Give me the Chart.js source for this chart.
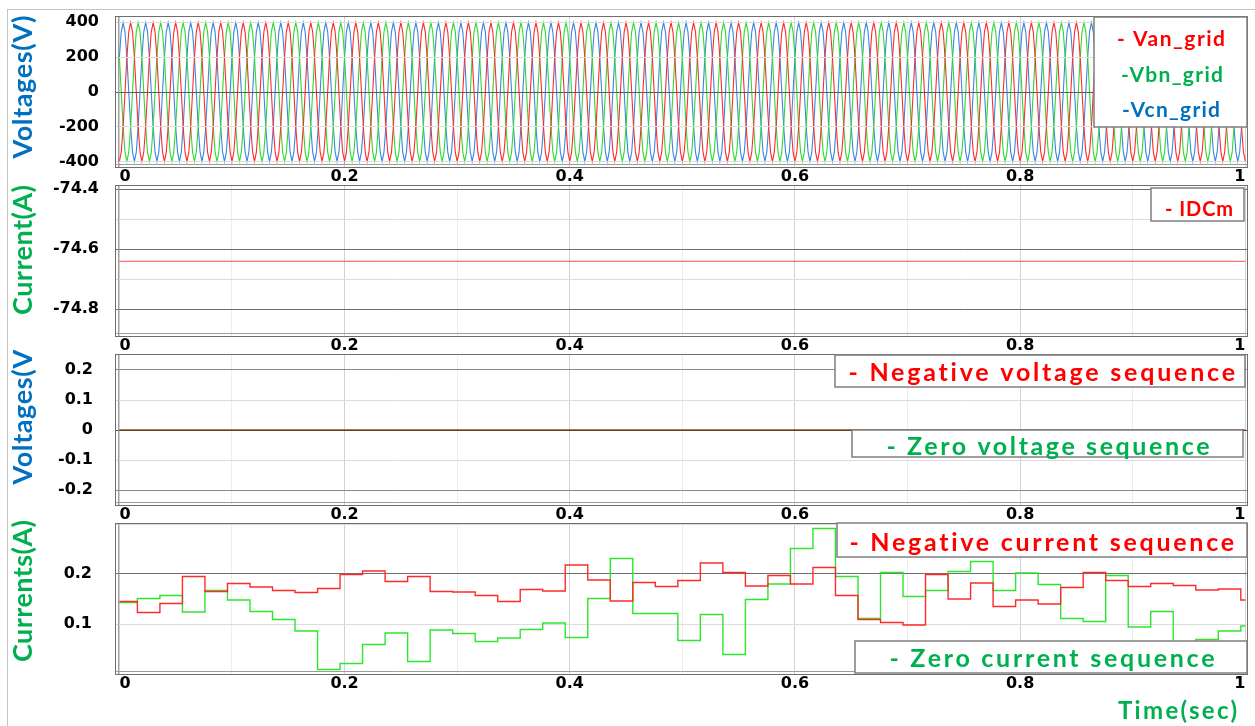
<!DOCTYPE html>
<html>
<head>
<meta charset="utf-8">
<title>Grid voltages and sequence components</title>
<script src="https://cdn.jsdelivr.net/npm/chart.js@4.4.1/dist/chart.umd.min.js"></script>
<style>
    html, body { margin: 0; padding: 0; background: #fff; }
    body { width: 1255px; height: 726px; position: relative; overflow: hidden; }
    .frame { position: absolute; left: 7px; top: 9px; width: 1250px; height: 730px;
             border-left: 1px solid #c4c4c4; border-top: 1px solid #c4c4c4; }
    canvas { position: absolute; left: 0; }
</style>
</head>
<body>
<div class="frame"></div>
<canvas id="chart-grid" width="1255" height="189" style="top:0px"></canvas>
<canvas id="chart-idc" width="1255" height="180" style="top:178px"></canvas>
<canvas id="chart-vseq" width="1255" height="177" style="top:350px"></canvas>
<canvas id="chart-iseq" width="1255" height="210" style="top:516px"></canvas>
<script>
// Zaman ekseni
const timeTicks = [0, 0.1, 0.2, 0.3, 0.4, 0.5, 0.6, 0.7, 0.8, 0.9, 1];
const timeLabels = ['0', '', '0.2', '', '0.4', '', '0.6', '', '0.8', '', '1'];

// Şebeke faz gerilimleri: 50 Hz, bir periyot 30 derecede bir örneklenmiş
const cyclePeriod = 0.02;
const cycleCount = 50;
const vanCycle = [-398, -345, -199, 0, 199, 345, 398, 345, 199, 0, -199, -345];
const vbnCycle = [199, 0, -199, -345, -398, -345, -199, 0, 199, 345, 398, 345];
const vcnCycle = [199, 345, 398, 345, 199, 0, -199, -345, -398, -345, -199, 0];
const voltTicks = [-400, -200, 0, 200, 400];
const voltLabels = ['-400', '-200', '0', '200', '400'];

// DC akımı
const dcTimes = [0, 1];
const idcM = [-74.64, -74.64];
const dcTicks = [-74.8, -74.7, -74.6, -74.5, -74.4];
const dcLabels = ['-74.8', '', '-74.6', '', '-74.4'];

// Negatif / sıfır bileşen gerilimleri
const vseqTimes = [0, 1];
const negVoltSeq = [0, 0];
const zeroVoltSeq = [0, 0];
const vseqTicks = [-0.2, -0.1, 0, 0.1, 0.2];
const vseqLabels = ['-0.2', '-0.1', '0', '0.1', '0.2'];

// Negatif / sıfır bileşen akımları (basamak başlangıç zamanları)
const seqTimes = [0, 0.016, 0.036, 0.056, 0.076, 0.096, 0.116, 0.136, 0.156, 0.176,
    0.196, 0.216, 0.236, 0.256, 0.276, 0.296, 0.316, 0.336, 0.356, 0.376,
    0.396, 0.416, 0.436, 0.456, 0.476, 0.496, 0.516, 0.536, 0.556, 0.576,
    0.596, 0.616, 0.636, 0.656, 0.676, 0.696, 0.716, 0.736, 0.756, 0.776,
    0.796, 0.816, 0.836, 0.856, 0.876, 0.896, 0.916, 0.936, 0.956, 0.976,
    0.996, 1];
const negCurrent = [0.145, 0.123, 0.141, 0.195, 0.165, 0.181, 0.174, 0.167, 0.163, 0.171,
    0.199, 0.206, 0.185, 0.195, 0.165, 0.164, 0.157, 0.145, 0.169, 0.166,
    0.218, 0.188, 0.146, 0.183, 0.175, 0.187, 0.222, 0.203, 0.176, 0.197,
    0.180, 0.213, 0.157, 0.109, 0.103, 0.098, 0.199, 0.150, 0.182, 0.135,
    0.148, 0.140, 0.173, 0.203, 0.187, 0.175, 0.181, 0.177, 0.168, 0.170,
    0.148, 0.148];
const zeroCurrent = [0.143, 0.151, 0.157, 0.124, 0.167, 0.148, 0.125, 0.109, 0.086, 0.009,
    0.021, 0.059, 0.082, 0.025, 0.088, 0.081, 0.065, 0.072, 0.089, 0.102,
    0.073, 0.151, 0.231, 0.121, 0.121, 0.067, 0.119, 0.039, 0.149, 0.180,
    0.251, 0.291, 0.195, 0.111, 0.203, 0.155, 0.167, 0.205, 0.225, 0.167,
    0.202, 0.179, 0.111, 0.105, 0.197, 0.094, 0.125, 0.050, 0.069, 0.086,
    0.096, 0.096];
const iseqTicks = [0, 0.1, 0.2, 0.3];
const iseqLabels = ['', '0.1', '0.2', ''];

const RED = '#ff0000';
const GREEN = '#00b050';
const BLUE = '#0070c0';
const TICK_FONT = { family: 'DejaVu Sans', size: 16, weight: 'bold' };

Chart.defaults.font.family = 'Lato';

// Periyot tablosunu tüm süre boyunca tekrarla
function tileCycle(cycle) {
    const pts = [];
    const n = cycle.length;
    for (let c = 0; c < cycleCount; c++) {
        cycle.forEach((v, k) => pts.push({ x: (c * n + k) * cyclePeriod / n, y: v }));
    }
    pts.push({ x: cycleCount * cyclePeriod, y: cycle[0] });
    return pts;
}

function pairUp(xs, ys) {
    return xs.map((x, i) => ({ x: x, y: ys[i] }));
}

// Harf aralığını ayarlayarak metni verilen genişliğe yay
function fitText(ctx, text, x, y, width, align) {
    ctx.letterSpacing = '0px';
    const natural = ctx.measureText(text).width;
    const gap = (width - natural) / Math.max(1, text.length - 1);
    ctx.letterSpacing = gap + 'px';
    const left = align === 'right' ? x - width : align === 'center' ? x - width / 2 : x;
    ctx.textAlign = 'left';
    ctx.fillText(text, left, y);
    ctx.letterSpacing = '0px';
}

// Çerçeve, eksen başlığı ve lejant kutuları (sayfa koordinatlarında)
const decor = {
    id: 'decor',
    afterDraw(chart, args, o) {
        const ctx = chart.ctx;
        const a = chart.chartArea;
        ctx.save();
        ctx.lineWidth = 1;
        ctx.strokeStyle = '#6f6f6f';
        ctx.strokeRect(a.left - 0.5, a.top - 0.5, a.width + 1, a.height + 1);
        ctx.strokeStyle = '#9c9c9c';
        ctx.beginPath();
        ctx.moveTo(a.left + 2.5, a.top);
        ctx.lineTo(a.left + 2.5, a.bottom);
        ctx.moveTo(a.left, a.bottom - 2.5);
        ctx.lineTo(a.right, a.bottom - 2.5);
        ctx.stroke();

        ctx.translate(0, -chart.canvas.offsetTop);

        (o.boxes || []).forEach(b => {
            ctx.fillStyle = '#fff';
            ctx.fillRect(b.x, b.y, b.w, b.h);
            ctx.strokeStyle = '#7f7f7f';
            ctx.lineWidth = 1.5;
            ctx.strokeRect(b.x, b.y, b.w, b.h);
            ctx.font = 'bold ' + b.size + 'px Lato';
            ctx.textBaseline = 'alphabetic';
            b.items.forEach(it => {
                const ds = chart.data.datasets[it.ds];
                ctx.fillStyle = it.color;
                fitText(ctx, it.prefix + ds.label, it.cx, it.base, it.w, 'center');
            });
        });

        if (o.yTitle) {
            const t = o.yTitle;
            ctx.save();
            ctx.translate(t.cx, t.cy);
            ctx.rotate(-Math.PI / 2);
            ctx.font = 'bold 27px Lato';
            ctx.textBaseline = 'middle';
            ctx.fillStyle = t.color;
            fitText(ctx, t.text, 0, 0, t.w, 'center');
            ctx.restore();
        }

        if (o.footer) {
            const f = o.footer;
            ctx.font = 'bold 24px Lato';
            ctx.textBaseline = 'alphabetic';
            ctx.fillStyle = f.color;
            fitText(ctx, f.text, f.right, f.base, f.w, 'right');
        }
        ctx.restore();
    }
};

function timeScale() {
    return {
        type: 'linear',
        min: -0.003,
        max: 1.0015,
        afterBuildTicks: axis => { axis.ticks = timeTicks.map(v => ({ value: v })); },
        afterFit: axis => { axis.height = 22; },
        grid: {
            drawTicks: false,
            color: ctx => (timeLabels[ctx.index] ? '#d2d2d2' : '#ededed')
        },
        border: { display: false },
        ticks: {
            autoSkip: false,
            maxRotation: 0,
            align: 'inner',
            padding: 0,
            color: '#000',
            font: TICK_FONT,
            callback: (v, i) => timeLabels[i]
        }
    };
}

// Etiket ile çizim alanı arasındaki boşluk görünmez tick çizgisiyle verilir;
// ticks.padding dikey boşluğu da büyüttüğü için sıfırda tutuluyor.
function valueScale(min, max, ticks, labels, dark, gap, gridOnTop) {
    return {
        type: 'linear',
        min: min,
        max: max,
        afterBuildTicks: axis => { axis.ticks = ticks.map(v => ({ value: v })); },
        afterFit: axis => { axis.width = 116; },
        grid: {
            drawTicks: true,
            tickLength: gap,
            tickColor: 'rgba(0,0,0,0)',
            z: gridOnTop ? 1 : -1,
            color: ctx => (dark[ctx.tick.value] || '#dcdcdc')
        },
        border: { display: false },
        ticks: {
            padding: 0,
            color: '#000',
            font: Object.assign({ lineHeight: 0.6 }, TICK_FONT),
            callback: (v, i) => labels[i]
        }
    };
}

function lineSet(label, data, color, width, stepped) {
    return {
        label: label,
        data: data,
        borderColor: color,
        borderWidth: width,
        pointRadius: 0,
        tension: 0,
        stepped: stepped || false,
        fill: false
    };
}

function panel(id, datasets, yScale, padTop, padBottom, deco) {
    return new Chart(document.getElementById(id), {
        type: 'line',
        data: { datasets: datasets },
        options: {
            responsive: false,
            animation: false,
            devicePixelRatio: 1,
            layout: { padding: { top: padTop, bottom: padBottom, left: 0, right: 8 } },
            plugins: { legend: { display: false }, tooltip: { enabled: false }, decor: deco },
            scales: { x: timeScale(), y: yScale }
        },
        plugins: [decor]
    });
}

// 1) Şebeke gerilimleri
panel('chart-grid', [
    lineSet('Van_grid', tileCycle(vanCycle), '#ff2b2b', 1.1),
    lineSet('Vbn_grid', tileCycle(vbnCycle), '#2fd92f', 1.1),
    lineSet('Vcn_grid', tileCycle(vcnCycle), '#3a86e0', 1.1)
], valueScale(-430, 430, voltTicks, voltLabels, { 0: '#5c5c5c' }, 17, true), 17, 0, {
    yTitle: { text: 'Voltages(V)', color: BLUE, cx: 23, cy: 87, w: 143 },
    boxes: [{
        x: 1094, y: 17, w: 153, h: 110, size: 21,
        items: [
            { ds: 0, prefix: '- ', color: RED, cx: 1171, base: 46, w: 108 },
            { ds: 1, prefix: '-', color: GREEN, cx: 1172, base: 82, w: 102 },
            { ds: 2, prefix: '-', color: BLUE, cx: 1171, base: 117, w: 98 }
        ]
    }]
});

// 2) DC akımı
panel('chart-idc', [
    lineSet('IDCm', pairUp(dcTimes, idcM), '#ff4d4d', 1)
], valueScale(-74.889, -74.389, dcTicks, dcLabels,
    { '-74.8': '#6e6e6e', '-74.6': '#6e6e6e', '-74.4': '#6e6e6e' }, 17), 8, 0, {
    yTitle: { text: 'Current(A)', color: GREEN, cx: 23, cy: 250, w: 130 },
    boxes: [{
        x: 1151, y: 188, w: 93, h: 33, size: 20,
        items: [{ ds: 0, prefix: '- ', color: RED, cx: 1199, base: 216, w: 68 }]
    }]
});

// 3) Bileşen gerilimleri
panel('chart-vseq', [
    lineSet('Negative voltage sequence', pairUp(vseqTimes, negVoltSeq), RED, 1),
    lineSet('Zero voltage sequence', pairUp(vseqTimes, zeroVoltSeq), GREEN, 1)
], valueScale(-0.25, 0.25, vseqTicks, vseqLabels,
    { '0.2': '#8a8a8a', '-0.2': '#8a8a8a', 0: '#534d20' }, 23, true), 5, 0, {
    yTitle: { text: 'Voltages(V)', color: BLUE, cx: 23, cy: 413, w: 143 },
    boxes: [
        { x: 835, y: 355, w: 410, h: 32, size: 25,
          items: [{ ds: 0, prefix: '- ', color: RED, cx: 1042, base: 381, w: 387 }] },
        { x: 852, y: 430, w: 391, h: 27, size: 25,
          items: [{ ds: 1, prefix: '- ', color: GREEN, cx: 1048, base: 455, w: 323 }] }
    ]
});

// 4) Bileşen akımları
panel('chart-iseq', [
    lineSet('Negative current sequence', pairUp(seqTimes, negCurrent), '#ff2a2a', 1.4, true),
    lineSet('Zero current sequence', pairUp(seqTimes, zeroCurrent), '#2ee62e', 1.4, true)
], valueScale(0, 0.3, iseqTicks, iseqLabels, { 0.2: '#6e6e6e' }, 24), 8, 30, {
    yTitle: { text: 'Currents(A)', color: GREEN, cx: 23, cy: 591, w: 142 },
    boxes: [
        { x: 837, y: 523, w: 410, h: 34, size: 25,
          items: [{ ds: 0, prefix: '- ', color: RED, cx: 1042, base: 551, w: 385 }] },
        { x: 855, y: 641, w: 392, h: 32, size: 25,
          items: [{ ds: 1, prefix: '- ', color: GREEN, cx: 1052, base: 667, w: 325 }] }
    ],
    footer: { text: 'Time(sec)', color: GREEN, right: 1237, base: 719, w: 119 }
});
</script>
</body>
</html>
